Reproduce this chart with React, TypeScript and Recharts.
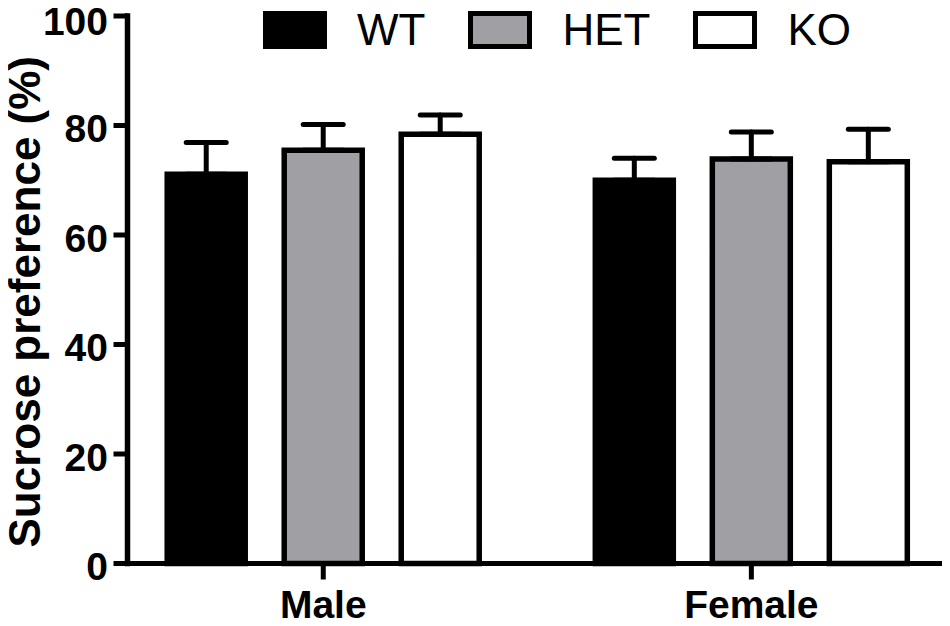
import { Bar, BarChart, ErrorBar, XAxis, YAxis, Label } from "recharts";

// group labels on the x axis
const categories = ["Male", "Female"];

// mean sucrose preference (%) per genotype, one value per category
const wtMean = [71.1, 70.0];
const hetMean = [75.5, 73.9];
const koMean = [78.4, 73.4];

// upper error (SEM) per genotype
const wtErr = [5.8, 4.0];
const hetErr = [4.7, 4.9];
const koErr = [3.5, 5.9];

const yTicks = [0, 20, 40, 60, 80, 100];

const series = [
  { key: "wt", name: "WT", fill: "#000000" },
  { key: "het", name: "HET", fill: "#a0a0a4" },
  { key: "ko", name: "KO", fill: "#ffffff" },
];

// error bars only go up, so the lower half is zero
const rows = categories.map((group, i) => ({
  x: i + 1,
  group,
  wt: wtMean[i],
  wtErr: [0, wtErr[i]],
  het: hetMean[i],
  hetErr: [0, hetErr[i]],
  ko: koMean[i],
  koErr: [0, koErr[i]],
}));

const FONT = "'Liberation Sans', Arial, Helvetica, sans-serif";
const TICK_FONT = 39;

function ChartLegend() {
  return (
    <div
      style={{
        position: "absolute",
        left: 263,
        top: 11,
        display: "flex",
        alignItems: "center",
        fontFamily: FONT,
      }}
    >
      {series.map((s) => (
        <div
          key={s.key}
          style={{ display: "flex", alignItems: "center", marginRight: 43 }}
        >
          <span
            style={{
              display: "inline-block",
              width: 64,
              height: 38,
              boxSizing: "border-box",
              border: "5.5px solid #000",
              background: s.fill,
            }}
          />
          <span style={{ marginLeft: 30, fontSize: 44, lineHeight: "38px", color: "#000" }}>
            {s.name}
          </span>
        </div>
      ))}
    </div>
  );
}

// y tick label, kept inside the top edge of the picture
function YTick({ x, y, payload }: any) {
  const baseline = Math.max(y + TICK_FONT * 0.43, TICK_FONT * 0.91);
  return (
    <text
      x={x}
      y={baseline}
      textAnchor="end"
      fontFamily={FONT}
      fontWeight="bold"
      fontSize={TICK_FONT}
      fill="#000"
    >
      {payload.value}
    </text>
  );
}

function YTitle({ viewBox }: any) {
  const cy = viewBox ? viewBox.y + viewBox.height / 2 + 12 : 302;
  return (
    <text
      x={40}
      y={cy}
      transform={`rotate(-90, 40, ${cy})`}
      textAnchor="middle"
      fontFamily={FONT}
      fontWeight="bold"
      fontSize={44}
      fill="#000"
    >
      Sucrose preference (%)
    </text>
  );
}

export default function App() {
  return (
    <div style={{ position: "relative", width: 950, height: 626, margin: -8 }}>
      <BarChart
        width={950}
        height={626}
        data={rows}
        margin={{ top: 16, right: 3, left: 0, bottom: 0 }}
        barGap={39}
        style={{ fontFamily: FONT }}
      >
        <XAxis
          type="number"
          dataKey="x"
          domain={[0.5427, 2.457]}
          allowDataOverflow
          ticks={[1, 2]}
          tickFormatter={(v: number) => categories[v - 1] ?? ""}
          height={62.5}
          tickSize={16}
          tickMargin={10.5}
          axisLine={{ stroke: "#000", strokeWidth: 5, strokeLinecap: "square" }}
          tickLine={{ stroke: "#000", strokeWidth: 5 }}
          tick={{ fill: "#000", fontSize: TICK_FONT, fontWeight: "bold", fontFamily: FONT }}
        />
        <YAxis
          type="number"
          domain={[0, 100]}
          ticks={yTicks}
          interval={0}
          width={127.5}
          tickSize={14}
          tickMargin={5.5}
          axisLine={{ stroke: "#000", strokeWidth: 5.5, strokeLinecap: "square" }}
          tickLine={{ stroke: "#000", strokeWidth: 5 }}
          tick={<YTick />}
        >
          <Label content={<YTitle />} />
        </YAxis>
        {series.map((s) => (
          <Bar
            key={s.key}
            dataKey={s.key}
            name={s.name}
            fill={s.fill}
            stroke="#000"
            strokeWidth={5.5}
            barSize={78}
            isAnimationActive={false}
          >
            <ErrorBar
              dataKey={`${s.key}Err`}
              direction="y"
              width={20}
              stroke="#000"
              strokeWidth={5}
              strokeLinecap="round"
              isAnimationActive={false}
            />
          </Bar>
        ))}
      </BarChart>
      <ChartLegend />
    </div>
  );
}
